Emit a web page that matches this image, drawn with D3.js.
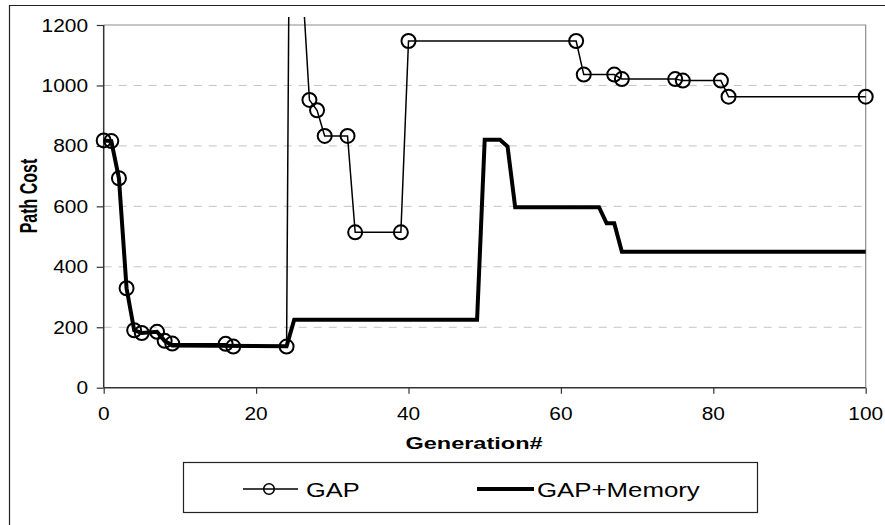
<!DOCTYPE html>
<html>
<head>
<meta charset="utf-8">
<script src="https://cdn.jsdelivr.net/npm/d3@7/dist/d3.min.js"></script>
<style>
  html, body { margin: 0; padding: 0; background: #fff; overflow: hidden; }
  svg { display: block; overflow: hidden; font-family: "Liberation Sans", Arial, sans-serif; }
</style>
</head>
<body>
<svg id="chart" width="885" height="525"></svg>
<script>
// GAP run: generation numbers where the best path changed, and its cost
const gapGen  = [0, 1, 2, 3, 4, 5, 7, 8, 9, 16, 17, 24, 25, 26, 27, 28, 29, 32, 33, 39, 40, 62, 63, 67, 68, 75, 76, 81, 82, 100];
const gapCost = [818, 816, 693, 329, 190, 181, 185, 155, 146, 145, 136, 136, 4000, 1370, 952, 918, 833, 833, 514, 514, 1147, 1147, 1036, 1036, 1021, 1021, 1016, 1016, 963, 963];

// GAP+Memory run
const memGen  = [0, 1, 2, 3, 4, 5, 7, 8, 9, 24, 25, 49, 50, 52, 53, 54, 65, 66, 67, 68, 100];
const memCost = [818, 816, 693, 329, 190, 181, 185, 155, 140, 137, 225, 225, 820, 820, 798, 597, 597, 544, 544, 450, 450];

// Axis ticks
const xTicks = [0, 20, 40, 60, 80, 100];
const yTicks = [0, 200, 400, 600, 800, 1000, 1200];
const seriesNames = ["GAP", "GAP+Memory"];

const svg = d3.select("#chart");

const x = d3.scaleLinear().domain([0, 100]).range([103.7, 865.7]);
const y = d3.scaleLinear().domain([0, 1200]).range([387.7, 25]);

// Text helper: glyphs are widened horizontally
function label(g, txt, px, py, opts) {
  const o = Object.assign({size: 18, sx: 1.16, anchor: "start", weight: "normal"}, opts || {});
  return g.append("text")
    .attr("transform", `translate(${px},${py}) scale(${o.sx},1)`)
    .attr("text-anchor", o.anchor)
    .attr("font-size", o.size)
    .attr("font-weight", o.weight)
    .attr("fill", "#000")
    .text(txt);
}

// Outer chart frame (continues past the right and bottom edges)
svg.append("path")
  .attr("d", "M9.5,600V5.5H1000")
  .attr("fill", "none").attr("stroke", "#222").attr("stroke-width", 1.2);

// Horizontal gridlines
svg.append("g")
  .selectAll("line")
  .data(yTicks.filter(v => v > 0 && v < 1200))
  .join("line")
  .attr("x1", x(0)).attr("x2", x(100))
  .attr("y1", d => y(d)).attr("y2", d => y(d))
  .attr("stroke", "#c4c4c4").attr("stroke-width", 1)
  .attr("stroke-dasharray", "8,7");

// Plot area border (top and right)
svg.append("path")
  .attr("d", `M${x(0)},${y(1200)}H${x(100)}V${y(0)}`)
  .attr("fill", "none").attr("stroke", "#8c8c8c").attr("stroke-width", 1.2);

// Axes
const yAxis = d3.axisLeft(y).tickValues(yTicks).tickSize(7).tickFormat("");
const gy = svg.append("g").attr("transform", `translate(${x(0)},0)`).call(yAxis);
const xAxis = d3.axisBottom(x).tickValues(xTicks).tickSize(6).tickFormat("");
const gx = svg.append("g").attr("transform", `translate(0,${y(0)})`).call(xAxis);
[gx, gy].forEach(g => {
  g.select(".domain").attr("stroke", "#333").attr("stroke-width", 1.5);
  g.selectAll(".tick line").attr("stroke", "#333").attr("stroke-width", 1.2);
});
gy.select(".domain").attr("d", `M0,${y(0)}V${y(1200)}`);
gx.select(".domain").attr("d", `M${x(0)},0H${x(100)}`);

const labels = svg.append("g");
yTicks.forEach(v => label(labels, String(v), 88, y(v) + 6.5, {anchor: "end"}));
xTicks.forEach(v => label(labels, String(v), x(v), 419.5, {anchor: "middle"}));

// Axis titles
label(labels, "Generation#", 474, 449, {size: 16, sx: 1.47, anchor: "middle", weight: "bold"});
svg.append("text")
  .attr("transform", `translate(37,196) scale(1.55,1) rotate(-90)`)
  .attr("text-anchor", "middle")
  .attr("font-size", 16)
  .attr("font-weight", "bold")
  .text("Path Cost");

// Data area clip (lines run slightly above the plot top before being cut)
svg.append("clipPath").attr("id", "plotClip")
  .append("rect")
  .attr("x", x(0) - 10).attr("y", 17)
  .attr("width", x(100) - x(0) + 20).attr("height", y(0) - 17 + 10);

const data = svg.append("g").attr("clip-path", "url(#plotClip)");

const gapPts = gapGen.map((g, i) => [g, gapCost[i]]);
const memPts = memGen.map((g, i) => [g, memCost[i]]);
const line = d3.line().x(d => x(d[0])).y(d => y(d[1]));

data.append("path")
  .datum(memPts)
  .attr("d", line)
  .attr("fill", "none").attr("stroke", "#000").attr("stroke-width", 4)
  .attr("stroke-linejoin", "miter");

data.append("path")
  .datum(gapPts)
  .attr("d", line)
  .attr("fill", "none").attr("stroke", "#000").attr("stroke-width", 1.5);

data.selectAll("circle.gap")
  .data(gapPts)
  .join("circle")
  .attr("class", "gap")
  .attr("cx", d => x(d[0])).attr("cy", d => y(d[1]))
  .attr("r", 7)
  .attr("fill", "none").attr("stroke", "#000").attr("stroke-width", 2);

// Legend
const lg = svg.append("g");
lg.append("rect")
  .attr("x", 183.5).attr("y", 462.5).attr("width", 574).attr("height", 50)
  .attr("fill", "#fff").attr("stroke", "#222").attr("stroke-width", 1.2);
lg.append("line")
  .attr("x1", 243).attr("x2", 298).attr("y1", 489).attr("y2", 489)
  .attr("stroke", "#000").attr("stroke-width", 1.5);
lg.append("circle")
  .attr("cx", 269).attr("cy", 489).attr("r", 5.3)
  .attr("fill", "none").attr("stroke", "#000").attr("stroke-width", 1.6);
label(lg, seriesNames[0], 306, 497, {size: 21, sx: 1.21});
lg.append("line")
  .attr("x1", 477).attr("x2", 534).attr("y1", 489).attr("y2", 489)
  .attr("stroke", "#000").attr("stroke-width", 4);
label(lg, seriesNames[1], 537, 497, {size: 21, sx: 1.23});
</script>
</body>
</html>
